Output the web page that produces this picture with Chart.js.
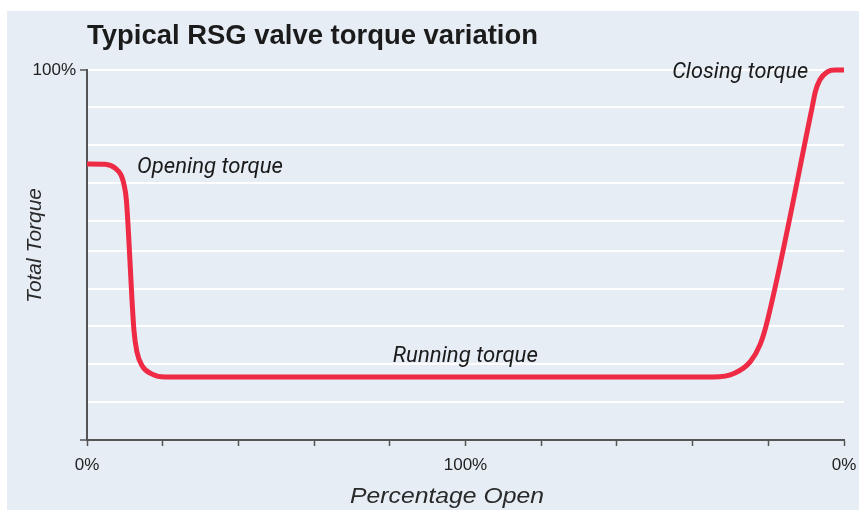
<!DOCTYPE html>
<html>
<head>
<meta charset="utf-8">
<script src="https://cdn.jsdelivr.net/npm/chart.js@4/dist/chart.umd.min.js"></script>
<style>
  html, body { margin: 0; padding: 0; background: #ffffff; }
  #wrap { width: 859px; height: 510px; }
</style>
</head>
<body>
<div id="wrap"><canvas id="c" width="859" height="510"></canvas></div>
<script>
// ---- data ----
const chartTitle = 'Typical RSG valve torque variation';
const xTitle = 'Percentage Open';
const yTitle = 'Total Torque';
// x position along the stroke (0 = open start, 5 = fully open, 10 = closed)
const strokeX = [0.00, 0.24, 0.37, 0.45, 0.49, 0.52, 0.62, 0.66, 0.73, 0.86, 1.03,
                 8.27, 8.56, 8.76, 8.89, 8.98, 9.58, 9.62, 9.68, 9.78, 9.88, 10.00];
// total torque in % of maximum
const torque  = [74.6, 74.5, 73.5, 71.6, 68.9, 64.9, 29.7, 23.8, 20.0, 17.8, 17.0,
                 17.0, 18.1, 21.1, 25.7, 31.6, 90.0, 94.0, 97.3, 99.5, 100.0, 100.0];
// x tick labels
const xTickValues = [0, 1, 2, 3, 4, 5, 6, 7, 8, 9, 10];
const xTickLabels = {0: '0%', 5: '100%', 10: '0%'};
// y gridlines (torque %) and labels
const yGridValues = [0, 10.3, 20.5, 30.8, 40.8, 51.1, 59.2, 69.5, 79.7, 90, 100];
const yTickLabels = {100: '100%'};
// annotations anchored in data space
const noteText = ['Opening torque', 'Running torque', 'Closing torque'];
const noteX    = [0.66, 4.04, 7.73];
const noteY    = [72.2, 21.1, 97.8];

// ---- styles ----
const RED = '#ee2a44';
const AXIS = '#555555';
const TEXT = '#1b1b1b';
const PANEL = '#e6edf5';
const noteWidths = [146, 145, 136];

const points = strokeX.map((x, i) => ({x: x, y: torque[i]}));

function fitText(ctx, text, x, y, width, font) {
  ctx.font = font;
  const w = ctx.measureText(text).width;
  ctx.save();
  ctx.translate(x, y);
  ctx.scale(width / w, 1);
  ctx.fillText(text, 0, 0);
  ctx.restore();
}

const decor = {
  id: 'decor',
  beforeDraw(chart) {
    const ctx = chart.ctx;
    ctx.save();
    ctx.fillStyle = PANEL;
    ctx.fillRect(7, 11, 852, 499);
    ctx.restore();
  },
  afterDraw(chart) {
    const ctx = chart.ctx;
    const xs = chart.scales.x, ys = chart.scales.y;
    ctx.save();
    ctx.fillStyle = TEXT;
    ctx.textAlign = 'left';
    ctx.textBaseline = 'alphabetic';
    // title
    fitText(ctx, chartTitle, 87, 44, 451, 'bold 27px "Liberation Sans"');
    // annotations
    noteText.forEach((t, i) => {
      fitText(ctx, t, xs.getPixelForValue(noteX[i]), ys.getPixelForValue(noteY[i]),
              noteWidths[i], 'italic 22px Roboto');
    });
    // x title
    ctx.fillStyle = '#2a2a2a';
    fitText(ctx, xTitle, 350, 503, 194, 'italic 22px "Liberation Sans"');
    // y title
    ctx.save();
    ctx.translate(41, 303);
    ctx.rotate(-Math.PI / 2);
    fitText(ctx, yTitle, 0, 0, 115, 'italic 20px "Liberation Sans"');
    ctx.restore();
    ctx.restore();
  }
};

new Chart(document.getElementById('c'), {
  type: 'line',
  data: {
    datasets: [{
      data: points,
      borderColor: RED,
      borderWidth: 5,
      pointRadius: 0,
      fill: false,
      cubicInterpolationMode: 'monotone',
      borderCapStyle: 'butt',
      borderJoinStyle: 'round',
      clip: false
    }]
  },
  options: {
    responsive: false,
    animation: false,
    devicePixelRatio: 1,
    layout: { padding: { left: 0, top: 70, right: 15, bottom: 0 } },
    plugins: { legend: { display: false }, tooltip: { enabled: false }, title: { display: false } },
    scales: {
      x: {
        type: 'linear',
        min: 0, max: 10,
        afterBuildTicks(scale) { scale.ticks = xTickValues.map(v => ({value: v})); },
        afterFit(scale) { scale.height = 70; scale.paddingLeft = 0; scale.paddingRight = 0; },
        ticks: {
          autoSkip: false,
          maxRotation: 0,
          padding: 9,
          color: '#222222',
          font: { family: '"Liberation Sans"', size: 17 },
          callback: (v) => xTickLabels[v] || ''
        },
        grid: {
          drawOnChartArea: false,
          drawTicks: true,
          tickLength: 6,
          tickColor: AXIS,
          tickWidth: 1.5
        },
        border: { display: true, color: AXIS, width: 2 }
      },
      y: {
        type: 'linear',
        min: 0, max: 100,
        afterBuildTicks(scale) { scale.ticks = yGridValues.map(v => ({value: v})); },
        afterFit(scale) { scale.width = 87; scale.paddingTop = 0; scale.paddingBottom = 0; },
        ticks: {
          autoSkip: false,
          padding: 4,
          color: '#222222',
          font: { family: '"Liberation Sans"', size: 17 },
          callback: (v) => yTickLabels[v] || ''
        },
        grid: {
          color: (c) => c.tick && c.tick.value === 0 ? 'rgba(0,0,0,0)' : '#ffffff',
          lineWidth: 2,
          drawTicks: true,
          tickLength: 7,
          tickColor: (c) => c.tick && (c.tick.value === 0 || c.tick.value === 100) ? AXIS : 'rgba(0,0,0,0)',
          tickWidth: 1.5
        },
        border: { display: true, color: AXIS, width: 2 }
      }
    }
  },
  plugins: [decor]
});
</script>
</body>
</html>
